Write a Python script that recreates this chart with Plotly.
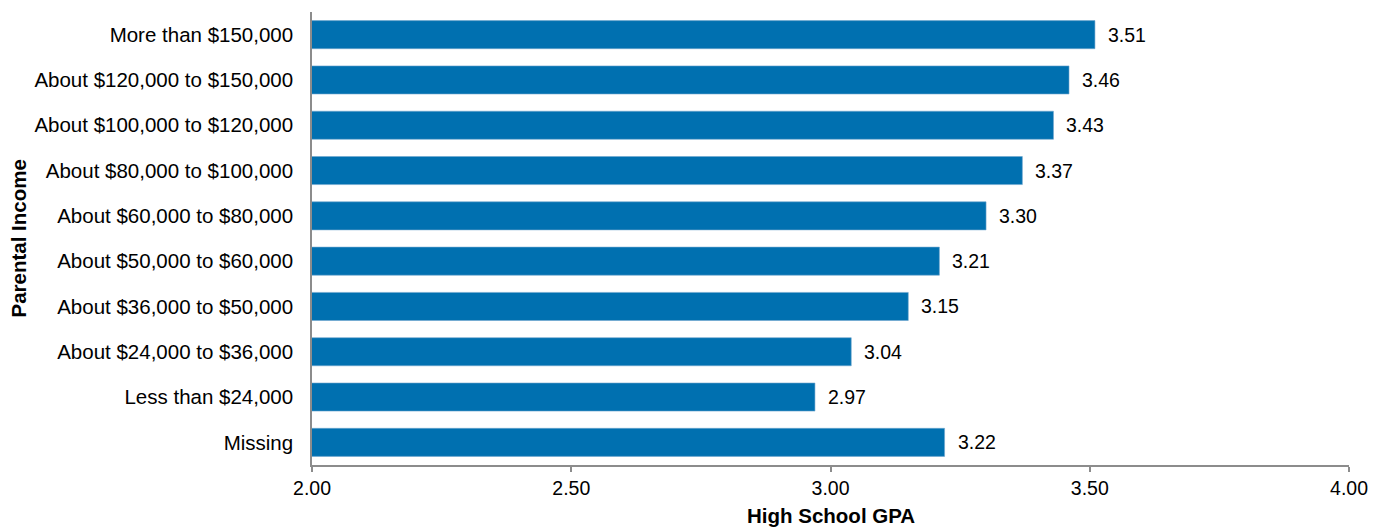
import plotly.graph_objects as go

# Parental income bands (top to bottom as shown) and mean high school GPA
categories = [
    "More than $150,000",
    "About $120,000 to $150,000",
    "About $100,000 to $120,000",
    "About $80,000 to $100,000",
    "About $60,000 to $80,000",
    "About $50,000 to $60,000",
    "About $36,000 to $50,000",
    "About $24,000 to $36,000",
    "Less than $24,000",
    "Missing",
]
gpa = [3.51, 3.46, 3.43, 3.37, 3.30, 3.21, 3.15, 3.04, 2.97, 3.22]
x_ticks = [2.00, 2.50, 3.00, 3.50, 4.00]

FONT = "Liberation Sans, Arial, sans-serif"
BAR = "#0070b0"
AXIS = "#8c8c8c"

fig = go.Figure(
    go.Bar(
        x=gpa,
        y=categories,
        orientation="h",
        marker=dict(color=BAR, line=dict(color="#6fa6cf", width=0.6)),
        hoverinfo="x+y",
    )
)

# value labels just past the end of each bar
for cat, val in zip(categories, gpa):
    fig.add_annotation(
        x=val, y=cat, text=f"{val:.2f}", xanchor="left", xshift=11,
        showarrow=False, font=dict(family=FONT, size=19.5, color="#000000"),
    )

fig.update_layout(
    width=1385, height=529,
    margin=dict(l=312, r=36, t=12, b=64),
    plot_bgcolor="white", paper_bgcolor="white",
    bargap=0.38,
    showlegend=False,
    font=dict(family=FONT, size=20, color="#000000"),
    xaxis=dict(
        range=[2.0, 4.0], tickvals=x_ticks,
        ticktext=[f"{v:.2f}" for v in x_ticks],
        showgrid=False, zeroline=False,
        showline=True, linecolor=AXIS, linewidth=1.5,
        ticks="outside", ticklen=5, tickcolor=AXIS, tickwidth=1.5,
        tickfont=dict(family=FONT, size=19.5),
    ),
    yaxis=dict(
        categoryorder="array", categoryarray=categories[::-1],
        showgrid=False, zeroline=False,
        showline=True, linecolor=AXIS, linewidth=1.5,
        ticks="", ticklabelstandoff=13,
        tickfont=dict(family=FONT, size=20.5),
    ),
)

fig.add_annotation(
    text="<b>High School GPA</b>", xref="paper", yref="paper",
    x=0.5, y=0, yshift=-64, xanchor="center", yanchor="bottom",
    showarrow=False, font=dict(family=FONT, size=20.5),
)
fig.add_annotation(
    text="<b>Parental Income</b>", xref="paper", yref="paper",
    x=0, xshift=-294, y=0.5, xanchor="center", yanchor="middle",
    textangle=-90, showarrow=False, font=dict(family=FONT, size=20.5),
)

fig.write_html("out.html")
